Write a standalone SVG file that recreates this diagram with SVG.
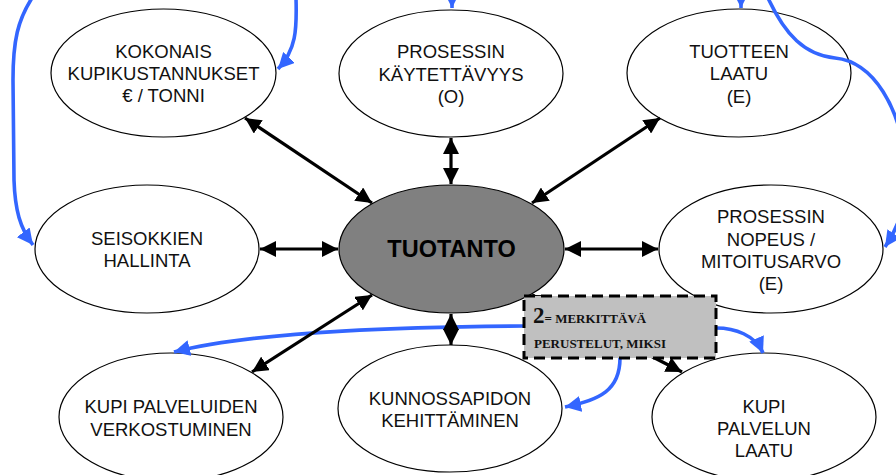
<svg xmlns="http://www.w3.org/2000/svg" width="896" height="475" viewBox="0 0 896 475">
<style>
.n{fill:#fff;stroke:#000;stroke-width:1.2}
.t{font-family:"Liberation Sans",Arial,sans-serif;font-size:18.5px;fill:#111;text-anchor:middle}
.k{fill:none;stroke:#000;stroke-width:3.2}
.b{fill:none;stroke:#3366ff;stroke-width:3.6}
.bx{font-family:"Liberation Serif","Times New Roman",serif;font-weight:bold;fill:#111}
</style>
<defs>
<marker id="ka" markerUnits="userSpaceOnUse" markerWidth="16" markerHeight="16" refX="14" refY="7" orient="auto-start-reverse" viewBox="0 0 14 14"><path d="M0,0 L14,7 L0,14 z" fill="#000"/></marker>
<marker id="ba" markerUnits="userSpaceOnUse" markerWidth="16" markerHeight="16" refX="13" refY="6.5" orient="auto" viewBox="0 0 13 13"><path d="M0,0 L13,6.5 L0,13 z" fill="#3366ff"/></marker>
</defs>
<g id="n-kokonais"><ellipse class="n" cx="163.5" cy="73" rx="112.5" ry="64"/><text class="t"><tspan x="163.5" y="58">KOKONAIS</tspan><tspan x="163.5" y="80">KUPIKUSTANNUKSET</tspan><tspan x="163.5" y="102">€ / TONNI</tspan></text></g>
<g id="n-kaytettavyys"><ellipse class="n" cx="451" cy="73.5" rx="112" ry="63.5"/><text class="t"><tspan x="451" y="58">PROSESSIN</tspan><tspan x="451" y="81">KÄYTETTÄVYYS</tspan><tspan x="451" y="103">(O)</tspan></text></g>
<g id="n-laatu"><ellipse class="n" cx="739" cy="73" rx="112" ry="64"/><text class="t"><tspan x="739" y="58">TUOTTEEN</tspan><tspan x="739" y="80">LAATU</tspan><tspan x="739" y="103">(E)</tspan></text></g>
<g id="n-seisokkien"><ellipse class="n" cx="147" cy="249" rx="112" ry="64"/><text class="t"><tspan x="147" y="245">SEISOKKIEN</tspan><tspan x="147" y="267">HALLINTA</tspan></text></g>
<g id="n-tuotanto"><ellipse cx="451.5" cy="249" rx="112.5" ry="64" fill="#808080" stroke="#000" stroke-width="1.2"/><text x="451.5" y="257" font-family="'Liberation Sans',Arial,sans-serif" font-size="23.5" font-weight="bold" fill="#000" text-anchor="middle">TUOTANTO</text></g>
<g id="n-nopeus"><ellipse class="n" cx="771" cy="249" rx="112" ry="64"/><text class="t"><tspan x="771" y="223">PROSESSIN</tspan><tspan x="771" y="246">NOPEUS /</tspan><tspan x="771" y="268">MITOITUSARVO</tspan><tspan x="771" y="290">(E)</tspan></text></g>
<g id="n-verkostuminen"><ellipse class="n" cx="171" cy="417" rx="112" ry="64"/><text class="t"><tspan x="171" y="413">KUPI PALVELUIDEN</tspan><tspan x="171" y="436">VERKOSTUMINEN</tspan></text></g>
<g id="n-kunnossapidon"><ellipse class="n" cx="450" cy="408.5" rx="112" ry="63.5"/><text class="t"><tspan x="450" y="405">KUNNOSSAPIDON</tspan><tspan x="450" y="427">KEHITTÄMINEN</tspan></text></g>
<g id="n-palvelunlaatu"><ellipse class="n" cx="764" cy="417" rx="112" ry="64"/><text class="t"><tspan x="764" y="413">KUPI</tspan><tspan x="764" y="435">PALVELUN</tspan><tspan x="764" y="457">LAATU</tspan></text></g>
<g id="connectors">
<path class="b" d="M32,-2 C18,20 13,40 13,80 L14,180 C15,210 20,228 33,245" marker-end="url(#ba)"/>
<path class="b" d="M296,-2 C297,30 296,50 278,69" marker-end="url(#ba)"/>
<path class="b" d="M452,-12 L452,8" marker-end="url(#ba)"/>
<path class="b" d="M741,-12 L741,8" marker-end="url(#ba)"/>
<path class="b" d="M768,-2 C785,35 805,55 835,58 C875,62 900,110 905,160 C908,200 900,225 885,247" marker-end="url(#ba)"/>
<path class="b" d="M524,326 C420,327 260,330 174,352" marker-end="url(#ba)"/>
<path class="b" d="M620,358 C620,390 600,400 565,407" marker-end="url(#ba)"/>
<path class="b" d="M716,328 C735,328 755,335 763,353" marker-end="url(#ba)"/>
<line class="k" x1="372" y1="203" x2="245" y2="118" marker-start="url(#ka)" marker-end="url(#ka)"/>
<line class="k" x1="451" y1="184" x2="451" y2="138" marker-start="url(#ka)" marker-end="url(#ka)"/>
<line class="k" x1="532" y1="203" x2="660" y2="118" marker-start="url(#ka)" marker-end="url(#ka)"/>
<line class="k" x1="338" y1="249" x2="260" y2="249" marker-start="url(#ka)" marker-end="url(#ka)"/>
<line class="k" x1="565" y1="249" x2="658" y2="249" marker-start="url(#ka)" marker-end="url(#ka)"/>
<line class="k" x1="372" y1="295" x2="252" y2="372" marker-start="url(#ka)" marker-end="url(#ka)"/>
<line class="k" x1="451" y1="314" x2="451" y2="345" marker-start="url(#ka)" marker-end="url(#ka)"/>
<line class="k" x1="532" y1="295" x2="682" y2="372" marker-start="url(#ka)" marker-end="url(#ka)"/>
</g>
<g id="n-note">
<rect x="524" y="296" width="192" height="62" fill="#c0c0c0" stroke="#000" stroke-width="3" stroke-dasharray="11 6"/>
<text class="bx" x="533" y="323"><tspan font-size="23">2</tspan><tspan font-size="13">= MERKITTÄVÄ</tspan></text>
<text class="bx" x="534" y="348" font-size="13">PERUSTELUT, MIKSI</text>
</g>
</svg>
